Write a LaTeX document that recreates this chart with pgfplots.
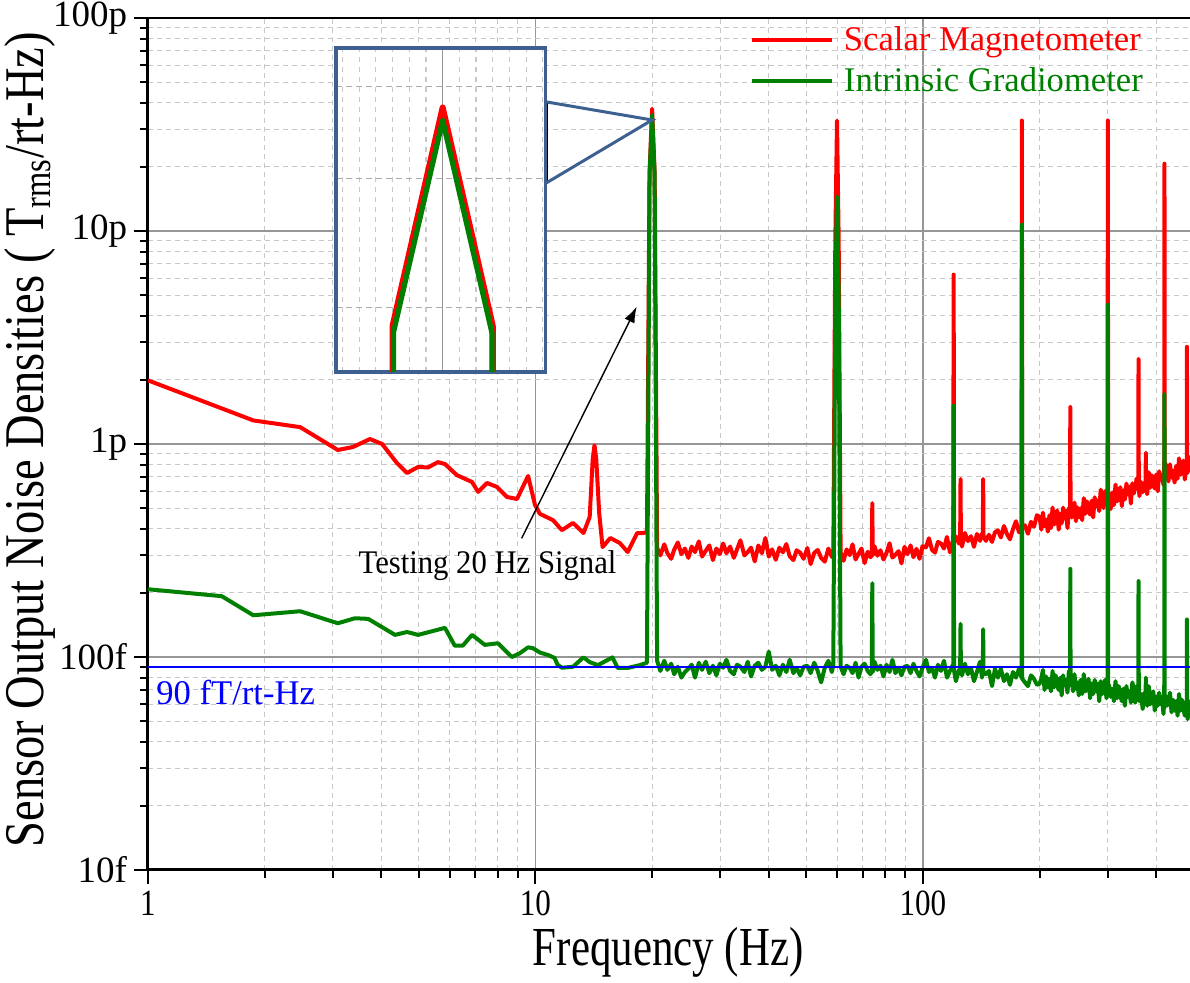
\documentclass[border=0pt]{standalone}
\usepackage{fontspec}
\setmainfont{Liberation Serif}
\newfontfamily\xlabfont{Liberation Serif}[FakeStretch=0.78]
\newfontfamily\ylabfont{Liberation Serif}[FakeStretch=0.83]
\newfontfamily\annfont{Liberation Serif}[FakeStretch=0.93]
\newfontfamily\xtickfont{Liberation Serif}[FakeStretch=0.84]
\usepackage{pgfplots}
\pgfplotsset{compat=1.18}
\usetikzlibrary{arrows.meta}
\definecolor{cred}{RGB}{255,0,0}
\definecolor{cgreen}{RGB}{0,128,0}
\definecolor{cblue}{RGB}{0,0,255}
\definecolor{insetblue}{RGB}{62,96,145}
\definecolor{majgrid}{RGB}{150,150,150}
\definecolor{mingrid}{RGB}{200,200,200}
\begin{document}
\begin{tikzpicture}
\useasboundingbox (-74pt,-56.5pt) rectangle (521pt,435pt);
\begin{axis}[
  scale only axis, width=521.2pt, height=426pt,
  xmode=log, ymode=log,
  xmin=1, xmax=490, ymin=10, ymax=100000,
  axis x line*=bottom, axis y line*=left,
  axis line style={line width=1.5pt, -},
  xtick={1,10,100}, xticklabels={1,10,100},
  ytick={10,100,1000,10000,100000}, yticklabels={10f,100f,1p,10p,100p},
  minor xtick={2,3,4,5,6,7,8,9,20,30,40,50,60,70,80,90,200,300,400},
  minor ytick={20,30,40,50,60,70,80,90,200,300,400,500,600,700,800,900,2000,3000,4000,5000,6000,7000,8000,9000,20000,30000,40000,50000,60000,70000,80000,90000},
  grid=both,
  major grid style={majgrid, line width=0.8pt},
  minor grid style={mingrid, line width=0.5pt, dash pattern=on 2.5pt off 2pt},
  tick align=outside, major tick length=7pt, minor tick length=4pt,
  tick style={black, line width=1pt},
  yticklabel style={font=\fontsize{18.5}{20}\selectfont},
  xticklabel style={font=\xtickfont\fontsize{18.5}{20}\selectfont},
  /pgf/number format/assume math mode=true,
  every axis x label/.style={at={(axis description cs:0.499,-0.097)}, anchor=center},
  every axis y label/.style={at={(axis description cs:-0.1132,0.505)}, rotate=90, anchor=center},
  xlabel={\xlabfont\fontsize{27.5}{30}\selectfont Frequency (Hz)},
  ylabel={\ylabfont\fontsize{28}{30}\selectfont Sensor Output Noise Densities ( T\textsubscript{rms}/rt-Hz)},
  legend style={at={(rel axis cs:0.5775,0.995)}, anchor=north west, draw=none, fill=none, inner sep=0pt, outer sep=0pt, row sep=3pt, font=\fontsize{17.3}{19}\selectfont},
  legend cell align=left,
  legend image code/.code={\draw[#1, line width=2pt] (0pt,0pt) -- (40pt,0pt); \path (43pt,0pt);},
]
\addplot[cred, line width=2pt, line join=round] coordinates {
(1,1990) (1.87,1290) (2.47,1200) (3.09,937) (3.38,968) (3.74,1055) (4.02,1000) (4.39,814) (4.66,731) (4.98,780) (5.28,776) (5.60,822) (5.84,805) (6.27,714) (6.86,663) (7.11,596) (7.50,656) (7.95,629) (8.44,564) (8.96,552) (9.57,708) (9.97,518) (10.26,470) (11.1,439) (11.7,394) (12.5,426) (13.3,382) (13.8,454) (14.05,850) (14.2,985) (14.35,850) (14.6,475) (14.9,328) (15.6,362) (16.5,343) (17.3,311) (18.3,382) (18.9,382) (19.4,385) (19.7,18800) (20.0,37500) (20.3,18800) (20.6,326)
(21.0,300) (21.5,338) (21.9,307) (22.4,289) (22.8,319) (23.3,345) (23.8,304) (24.3,323) (24.8,292) (25.3,330) (25.8,311) (26.4,349) (26.9,296) (27.5,315) (28.1,334) (28.7,285) (29.3,323) (29.9,304) (30.5,341) (31.1,307) (31.8,330) (32.5,292) (33.1,319) (33.8,353) (34.6,300) (35.3,311) (36.0,326) (36.8,281) (37.6,334) (38.4,307) (39.2,362) (40.0,296) (40.8,320) (41.7,286) (42.6,326) (43.5,310) (44.4,339) (45.3,297) (46.3,285) (47.2,317) (48.2,309) (49.2,289) (50.3,325) (51.3,273) (52.4,308) (53.5,318) (54.6,292) (55.8,280) (57.0,323) (58.2,295)
(58.7,300) (59.4,9000) (60.0,33000) (60.6,9000) (61.3,310) (62.4,283) (63.5,320) (64.7,301) (65.8,338) (67.0,287) (68.2,305) (69.4,323) (70.7,276) (72.0,312) (73.2,294) (73.8,300) (74.0,528) (74.2,300) (75.0,331) (76.3,299) (77.7,317) (79.1,287) (80.5,308) (82.0,342) (83.4,293) (84.9,302) (86.5,314) (88.0,275) (89.6,329) (91.2,304) (92.9,334) (94.5,294) (96.2,322) (98.0,289) (99.7,331)
(101.8,327) (103.6,361) (105.5,319) (107.4,309) (109.3,347) (111.3,341) (113.3,323) (115.3,366) (117.4,310) (119.5,353) (119.7,345) (120.0,6240) (120.3,347) (121.6,368) (123.8,341) (124.7,350) (125.0,685) (125.3,350) (126.1,330) (128.3,382) (130.6,350) (133.0,369) (135.4,329) (137.8,378) (140.3,351) (142.0,380) (142.7,366) (143.0,685) (143.3,366) (145.4,351) (148.0,375) (150.7,347) (153.4,385) (156.1,393) (158.9,364) (161.8,412) (164.7,378) (167.7,357) (170.7,398) (173.8,434) (176.9,385) (179.6,402) (180.0,33000) (180.4,402) (183.3,415) (186.6,379) (190.0,431) (193.4,409) (196.9,463)
(200,454) (202,396) (204,476) (206,411) (208,441) (210,388) (212,463) (214,403) (216,503) (218,419) (220,438) (222,488) (224,396) (226,469) (228,424) (230,503) (232,446) (234,485) (236,403) (238,502) (239.6,468) (240.0,1490) (240.4,468) (242,452) (244,479) (246,531) (248,434) (250,505) (252.5,452) (255,499) (257.5,439) (260,557) (262.5,470) (265,538) (267.5,489) (270,466) (272.5,542) (275,452) (277.5,562) (280,511) (282.5,542) (285,484) (287.5,610) (290,572) (292.5,500) (295,601) (297.5,520) (299.5,545) (300.0,33000) (300.5,545)
(302,562) (305,495) (308,592) (311,516) (314,645) (317,538) (320,564) (323,627) (326,511) (329,606) (332,549) (335,652) (338,580) (341,630) (344,525) (347,654) (350,586) (353,622) (356,690) (359.4,622) (360.0,2500) (360.6,623) (362,569) (365.5,663) (369,594) (372.5,656) (375.4,643) (376.0,910) (376.6,644) (379,581) (382.5,737) (386,623) (389.5,713) (393,649) (396.5,618) (400,719) (403.5,600) (407,745) (410.5,679) (414,719) (417.5,643) (419.4,700) (420.0,20700) (420.6,700)
(422,813) (426,763) (430,667) (434,803) (438,696) (442,748) (446,659) (450,788) (454,687) (458,857) (462,717) (466,751) (470,836) (474,681) (478,807) (479.4,780) (480.0,2860) (480.6,780) (482,732) (486,870) (490,772) (494,840)
};
\addlegendentry{\textcolor{cred}{Scalar Magnetometer}}
\addplot[cgreen, line width=2pt, line join=round] coordinates {
(1,208) (1.55,193) (1.87,157) (2.47,164) (3.09,144) (3.42,152) (3.70,151) (4.34,127) (4.66,131) (4.98,127) (5.84,137) (6.19,113) (6.49,113) (6.86,127) (7.40,114) (8.0,116) (8.69,100) (9.1,104) (9.57,111) (9.85,110) (10.26,105) (10.8,102) (11.2,99) (11.4,92) (11.7,89) (12.5,90) (13.3,99.6) (13.8,94.6) (14.5,91.6) (15.8,99.6) (16.3,88.8) (17.3,88.8) (18.6,91.6) (19.4,94) (19.7,18300) (20.0,35000) (20.3,18300) (20.6,96)
(21.0,86) (21.5,96) (21.9,87) (22.4,93) (22.8,83) (23.3,90) (23.8,80) (24.3,85) (24.8,88) (25.3,92) (25.8,80) (26.4,94) (26.9,87) (27.5,95) (28.1,84) (28.7,91) (29.3,82) (29.9,93) (30.5,89) (31.1,97) (31.8,86) (32.5,83) (33.1,92) (33.8,90) (34.6,85) (35.3,95) (36.0,81) (36.8,91) (37.6,94) (38.4,87) (39.2,90) (40.0,106) (40.8,87) (41.7,91) (42.6,82) (43.5,92) (44.4,85) (45.3,97) (46.3,84) (47.2,89) (48.2,82) (49.2,90) (50.3,91) (51.3,84) (52.4,94) (53.5,86) (54.6,76) (55.8,89) (57.0,96) (58.2,85)
(58.7,92) (59.4,5000) (60.0,14500) (60.6,5000) (61.3,90) (62.4,83) (63.5,91) (64.7,89) (65.8,84) (67.0,94) (68.2,80) (69.4,90) (70.7,93) (72.0,86) (73.2,83) (73.8,86) (74.0,222) (74.2,85) (75.0,95) (76.3,87) (77.7,91) (79.1,81) (80.5,92) (82.0,85) (83.4,97) (84.9,84) (86.5,89) (88.0,82) (89.6,90) (91.2,91) (92.9,84) (94.5,93) (96.2,86) (98.0,81) (99.7,89)
(101.8,97) (103.6,85) (105.5,89) (107.4,80) (109.3,92) (111.3,86) (113.3,96) (115.3,80) (117.4,86) (119.5,92) (119.7,86) (120.0,1510) (120.3,86) (121.6,77) (123.8,87) (124.7,85) (125.0,143) (125.3,85) (126.1,82) (128.3,93) (130.6,83) (133.0,89) (135.4,77) (137.8,85) (140.3,95) (142.0,80) (142.7,84) (143.0,135) (143.3,84) (145.4,83) (148.0,86) (150.7,73) (153.4,88) (156.1,80) (158.9,88) (161.8,77) (164.7,83) (167.7,74) (170.7,85) (173.8,80) (176.9,88) (179.6,80) (180.0,10700) (180.4,79) (183.3,76) (186.6,73) (190.0,82) (193.4,79) (196.9,74)
(200,75) (202,79) (204,87) (206,70) (208,81) (210,72) (212,79) (214,69) (216,86) (218,72) (220,82) (222,74) (224,70) (226,80) (228,66) (230,82) (232,74) (234,78) (236,68) (238,86) (239.6,74) (240.0,259) (240.4,74) (242,80) (244,69) (246,83) (248,71) (250,76) (252.5,66) (255,78) (257.5,67) (260,83) (262.5,69) (265,71) (267.5,79) (270,64) (272.5,75) (275,67) (277.5,78) (280,69) (282.5,75) (285,62) (287.5,77) (290,67) (292.5,71) (295,78) (297.5,64) (299.5,70) (300.0,4500) (300.5,70)
(302,74) (305,65) (308,71) (311,62) (314,77) (317,64) (320,73) (323,66) (326,62) (329,71) (332,59) (335,73) (338,65) (341,69) (344,61) (347,76) (350,71) (353,61) (356,73) (359.4,65) (360.0,227) (360.6,65) (362,62) (365.5,67) (369,57) (372.5,68) (375.4,64) (376.0,80) (376.6,64) (379,59) (382.5,73) (386,60) (389.5,62) (393,69) (396.5,56) (400,65) (403.5,59) (407,68) (410.5,60) (414,65) (417.5,54) (419.4,62) (420.0,1710) (420.6,62)
(422,66) (426,59) (430,62) (434,68) (438,55) (442,63) (446,56) (450,62) (454,53) (458,67) (462,56) (466,63) (470,57) (474,53) (478,62) (479.4,58) (480.0,150) (480.6,58) (482,51) (486,62) (490,56) (494,59)
};
\addlegendentry{\textcolor{cgreen}{Intrinsic Gradiometer}}
\addplot[cblue, line width=1pt, forget plot] coordinates {(1,90) (490,90)};
\node[cblue, anchor=base west, inner sep=0pt, font=\fontsize{17.3}{19}\selectfont] at (axis cs:1.0487,60.1) {90 fT/rt-Hz};
\node[black, anchor=base west, inner sep=0pt, font=\annfont\fontsize{16.5}{18}\selectfont] at (axis cs:3.488,247.2) {Testing 20 Hz Signal};
\draw[-{Latex[length=8pt,width=5.5pt]}, line width=0.7pt, black] (axis cs:9.21,360.6) -- (axis cs:18.25,4412);
\coordinate (pk) at (axis cs:20,33200);
\coordinate (tl) at (rel axis cs:0,1);
\coordinate (tr) at (rel axis cs:1,1);
\end{axis}
\draw[black, line width=0.8pt] (tl) -- (tr);
\begin{axis}[
  at={(94pt,249pt)}, anchor=south west,
  scale only axis, width=104.75pt, height=162pt,
  ymode=log,
  xmin=19.361, xmax=20.616, ymin=16350, ymax=45200,
  xtick={20}, minor xtick={19.4,19.5,19.6,19.7,19.8,19.9,20.1,20.2,20.3,20.4,20.5,20.6},
  ytick={20000,30000,40000},
  xticklabels={}, yticklabels={},
  tick style={draw=none},
  xmajorgrids, xminorgrids, ymajorgrids,
  major x grid style={majgrid, line width=0.8pt, solid},
  minor x grid style={mingrid, line width=0.6pt, dash pattern=on 2.5pt off 2.5pt},
  major y grid style={majgrid!80, line width=0.6pt, dash pattern=on 3pt off 2pt},
  axis line style={draw=insetblue, line width=1.75pt},
  axis background/.style={fill=white},
]
\addplot[cred, line width=3pt, line join=round] coordinates {(19.699,1000) (19.7,18900) (20,37500) (20.3,18900) (20.301,1000)};
\addplot[cgreen, line width=2.6pt, line join=round] coordinates {(19.705,1000) (19.705,18500) (20,36000) (20.295,18500) (20.295,1000)};
\coordinate (c1) at (rel axis cs:1,0.834);
\coordinate (c2) at (rel axis cs:1,0.582);
\end{axis}
\draw[black, line width=0.5pt] ([xshift=1pt]c1) -- ([xshift=1pt]c2);
\draw[insetblue, line width=1.5pt] (c1) -- (pk) -- (c2);
\end{tikzpicture}
\end{document}
